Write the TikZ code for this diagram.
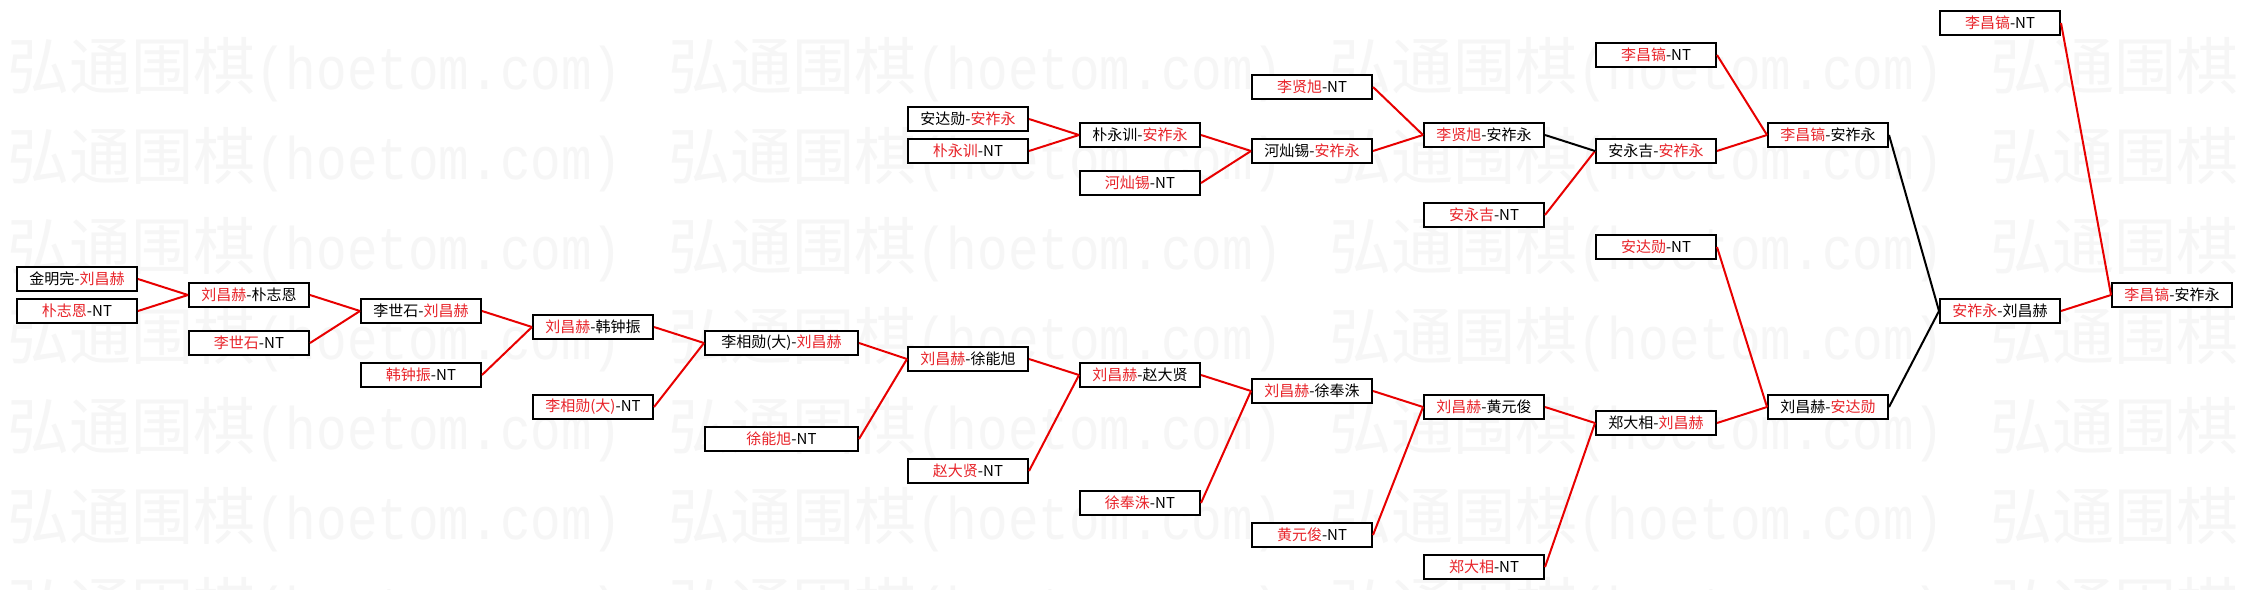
\documentclass[tikz,border=0pt]{standalone}
\usepackage{fontspec}
\setmainfont{Noto Sans CJK SC}
\newfontfamily\wmcjk{Noto Sans CJK SC}
\newfontfamily\wmmono[FakeStretch=0.85]{Liberation Mono}
\definecolor{txtred}{RGB}{232,36,42}
\definecolor{linered}{RGB}{232,0,0}
\definecolor{wmgray}{RGB}{246,246,246}
\newcommand\rt[1]{\textcolor{txtred}{#1}}
\tikzset{
  box/.style={draw=black, line width=2pt, fill=white, minimum width=120pt, minimum height=24pt,
    inner sep=0pt, font=\fontsize{15}{18}\selectfont},
  widebox/.style={box, minimum width=153pt},
  win/.style={draw=linered, line width=2pt},
  lose/.style={draw=black, line width=2pt},
  wm/.style={anchor=base west, text=wmgray, inner sep=0pt, font=\fontsize{62}{70}\selectfont}
}
\begin{document}
\begin{tikzpicture}[x=1pt,y=-1pt]
\useasboundingbox (0,0) rectangle (2245,589);
\fill[white] (0,0) rectangle (2245,589);
% watermark
\begin{scope}
\clip (0,0) rectangle (2245,589);
\foreach \yy in {89,179,269,359,449,539,629}{
  \foreach \xx in {7,668,1329,1990}{
    \node[wm] at (\xx,\yy) {\wmcjk 弘通围棋{\wmmono\fontsize{60}{70}\selectfont(hoetom.com)}};
  }
}
\end{scope}
% lower chain
\node[box] (a0) at (77,279) {金明完-\rt{刘昌赫}};
\node[box] (b0) at (77,311) {\rt{朴志恩}-NT};
\node[box] (a1) at (249,295) {\rt{刘昌赫}-朴志恩};
\node[box] (b1) at (249,343) {\rt{李世石}-NT};
\node[box] (a2) at (421,311) {李世石-\rt{刘昌赫}};
\node[box] (b2) at (421,375) {\rt{韩钟振}-NT};
\node[box] (a3) at (593,327) {\rt{刘昌赫}-韩钟振};
\node[box] (b3) at (593,407) {\rt{李相勋(大)}-NT};
\node[widebox] (a4) at (781.5,343) {李相勋(大)-\rt{刘昌赫}};
\node[widebox] (b4) at (781.5,439) {\rt{徐能旭}-NT};
\node[box] (a5) at (968,359) {\rt{刘昌赫}-徐能旭};
\node[box] (b5) at (968,471) {\rt{赵大贤}-NT};
\node[box] (a6) at (1140,375) {\rt{刘昌赫}-赵大贤};
\node[box] (b6) at (1140,503) {\rt{徐奉洙}-NT};
\node[box] (a7) at (1312,391) {\rt{刘昌赫}-徐奉洙};
\node[box] (b7) at (1312,535) {\rt{黄元俊}-NT};
\node[box] (a8) at (1484,407) {\rt{刘昌赫}-黄元俊};
\node[box] (b8) at (1484,567) {\rt{郑大相}-NT};
\node[box] (a9) at (1656,423) {郑大相-\rt{刘昌赫}};
\node[box] (b9) at (1656,247) {\rt{安达勋}-NT};
\node[box] (a10) at (1828,407) {刘昌赫-\rt{安达勋}};
% upper chain
\node[box] (u5) at (968,119) {安达勋-\rt{安祚永}};
\node[box] (v5) at (968,151) {\rt{朴永训}-NT};
\node[box] (u6) at (1140,135) {朴永训-\rt{安祚永}};
\node[box] (v6) at (1140,183) {\rt{河灿锡}-NT};
\node[box] (v7) at (1312,87) {\rt{李贤旭}-NT};
\node[box] (u7) at (1312,151) {河灿锡-\rt{安祚永}};
\node[box] (u8) at (1484,135) {\rt{李贤旭}-安祚永};
\node[box] (v8) at (1484,215) {\rt{安永吉}-NT};
\node[box] (v9) at (1656,55) {\rt{李昌镐}-NT};
\node[box] (u9) at (1656,151) {安永吉-\rt{安祚永}};
\node[box] (u10) at (1828,135) {\rt{李昌镐}-安祚永};
% final
\node[box] (f11) at (2000,311) {\rt{安祚永}-刘昌赫};
\node[box] (t11) at (2000,23) {\rt{李昌镐}-NT};
\node[box] (f12) at (2172,295) {\rt{李昌镐}-安祚永};
% connectors
\foreach \s/\t in {a0/a1,b0/a1,a1/a2,b1/a2,a2/a3,b2/a3,a3/a4,b3/a4,a4/a5,b4/a5,a5/a6,b5/a6,a6/a7,b6/a7,a7/a8,b7/a8,a8/a9,b8/a9,a9/a10,b9/a10,u5/u6,v5/u6,u6/u7,v6/u7,v7/u8,u7/u8,v8/u9,v9/u10,u9/u10,f11/f12,t11/f12}{
  \draw[win] (\s.east) -- (\t.west);
}
\foreach \s/\t in {u8/u9,a10/f11,u10/f11}{
  \draw[lose] (\s.east) -- (\t.west);
}
\end{tikzpicture}
\end{document}
